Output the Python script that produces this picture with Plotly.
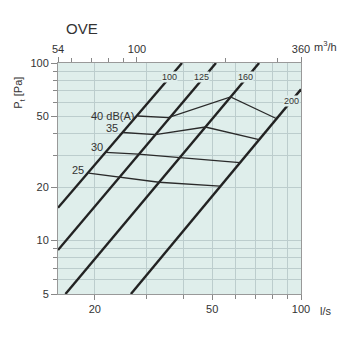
import plotly.graph_objects as go
import math

# Duct size lines (Ø mm): endpoints [l/s], [Pa]
duct_names = ["100", "125", "160", "200"]
duct_q = [[15.0, 39.5], [15.0, 51.5], [15.9, 72.1], [26.5, 100.0]]
duct_p = [[15.3, 100.0], [8.84, 100.0], [5.0, 100.0], [5.0, 71.1]]
duct_label_q = [35.7, 46.0, 64.8, 92.5]
duct_label_p = [83.0, 83.0, 83.0, 60.9]

# Sound level isolines dB(A)
db_names = ["40 dB(A)", "35", "30", "25"]
db_q = [[27.96, 35.5, 57.7, 82.4],
        [24.9, 32.1, 47.4, 72.1],
        [21.75, 28.1, 38.9, 62.1],
        [19.05, 24.15, 33.0, 53.1]]
db_p = [[50.3, 49.2, 64.4, 48.7],
        [40.6, 39.5, 43.6, 37.0],
        [31.4, 30.7, 29.3, 27.5],
        [23.95, 22.75, 21.3, 20.25]]
db_label_q = [22.9, 22.8, 20.4, 17.5]
db_label_p = [50.5, 43.2, 33.7, 25.1]

# Axes
x_range = [15, 100]          # l/s
x2_range = [54, 360]         # m3/h
y_range = [5, 100]           # Pa
x_major = [20, 50, 100]
x_minor = [30, 40, 60, 70, 80, 90]
x2_major = [54, 100, 360]
x2_minor = [60, 70, 80, 90, 200, 300]
y_major = [5, 10, 20, 50, 100]
y_minor = [6, 7, 8, 9, 30, 40, 60, 70, 80, 90]

BG = "rgb(223,238,235)"
GRID = "rgb(188,205,205)"
INK = "#222222"
TXT = "#333333"
FONT = "Arial"
NARROW = "Liberation Sans Narrow, Arial Narrow, Arial"

fig = go.Figure()
for q, p in zip(duct_q, duct_p):
    fig.add_trace(go.Scatter(x=q, y=p, mode="lines", line=dict(color=INK, width=2.4),
                             hoverinfo="skip", showlegend=False))
for q, p in zip(db_q, db_p):
    fig.add_trace(go.Scatter(x=q, y=p, mode="lines", line=dict(color="#2a2a2a", width=1.3),
                             hoverinfo="skip", showlegend=False))
# invisible trace for the top axis
fig.add_trace(go.Scatter(x=x2_range, y=y_range, xaxis="x2", mode="lines",
                         line=dict(width=0), opacity=0, hoverinfo="skip", showlegend=False))

for name, q, p in zip(duct_names, duct_label_q, duct_label_p):
    fig.add_annotation(x=math.log10(q), y=math.log10(p), text=name, showarrow=False,
                       xanchor="center", yanchor="middle", bgcolor=BG, borderpad=0,
                       font=dict(family=NARROW, size=9, color=TXT))
for name, q, p in zip(db_names, db_label_q, db_label_p):
    fig.add_annotation(x=math.log10(q), y=math.log10(p), text=name, showarrow=False,
                       xanchor="center", yanchor="middle",
                       font=dict(family=FONT, size=11, color=TXT))

W, H = 360, 339
L, R, T, B = 57.5, 59.3, 62.7, 45
pw, ph = W - L - R, H - T - B

def px(x, y):
    return dict(xref="paper", yref="paper", x=(x - L) / pw, y=(H - B - y) / ph,
                yanchor="middle")

fig.add_annotation(**px(64, 28), text="OVE", showarrow=False, xanchor="left",
                   font=dict(family=FONT, size=15, color=TXT))
fig.add_annotation(**px(325, 46), text="m<sup>3</sup>/h", showarrow=False, xanchor="center",
                   font=dict(family=FONT, size=11, color=TXT))
fig.add_annotation(**px(326, 311), text="l/s", showarrow=False, xanchor="center",
                   font=dict(family=FONT, size=11, color=TXT))
fig.add_annotation(**px(19, 93), text="P<sub>t</sub> [Pa]", showarrow=False, textangle=-90,
                   xanchor="center",
                   font=dict(family=FONT, size=11, color=TXT))

tickfont = dict(family=FONT, size=11, color=TXT)
fig.update_layout(
    width=W, height=H,
    margin=dict(l=L, r=R, t=T, b=B),
    paper_bgcolor="white", plot_bgcolor=BG,
    xaxis=dict(type="log", range=[math.log10(v) for v in x_range],
               tickmode="array", tickvals=x_major, ticktext=[str(v) for v in x_major],
               ticks="outside", ticklen=5, tickcolor="#888", tickfont=tickfont,
               showgrid=True, gridcolor=GRID, gridwidth=1,
               minor=dict(tickmode="array", tickvals=x_minor, ticks="outside", ticklen=4,
                          tickcolor="#888", showgrid=True, gridcolor=GRID),
               showline=True, linecolor="#999", linewidth=1, mirror=False, zeroline=False,
               fixedrange=True),
    xaxis2=dict(type="log", range=[math.log10(v) for v in x2_range], overlaying="x", side="top",
                tickmode="array", tickvals=x2_major, ticktext=[str(v) for v in x2_major],
                ticks="outside", ticklen=5, tickcolor="#888", tickfont=tickfont,
                showgrid=False,
                minor=dict(tickmode="array", tickvals=x2_minor, ticks="outside", ticklen=4,
                           tickcolor="#888", showgrid=False),
                showline=True, linecolor="#999", linewidth=1, zeroline=False, fixedrange=True),
    yaxis=dict(type="log", range=[math.log10(v) for v in y_range],
               tickmode="array", tickvals=y_major, ticktext=[str(v) for v in y_major],
               ticks="outside", ticklen=6, tickcolor="#888", tickfont=tickfont,
               showgrid=True, gridcolor=GRID, gridwidth=1,
               minor=dict(tickmode="array", tickvals=y_minor, ticks="outside", ticklen=4,
                          tickcolor="#888", showgrid=True, gridcolor=GRID),
               showline=True, linecolor="#999", linewidth=1, mirror=True, zeroline=False,
               fixedrange=True),
)
fig.write_html("out.html")
